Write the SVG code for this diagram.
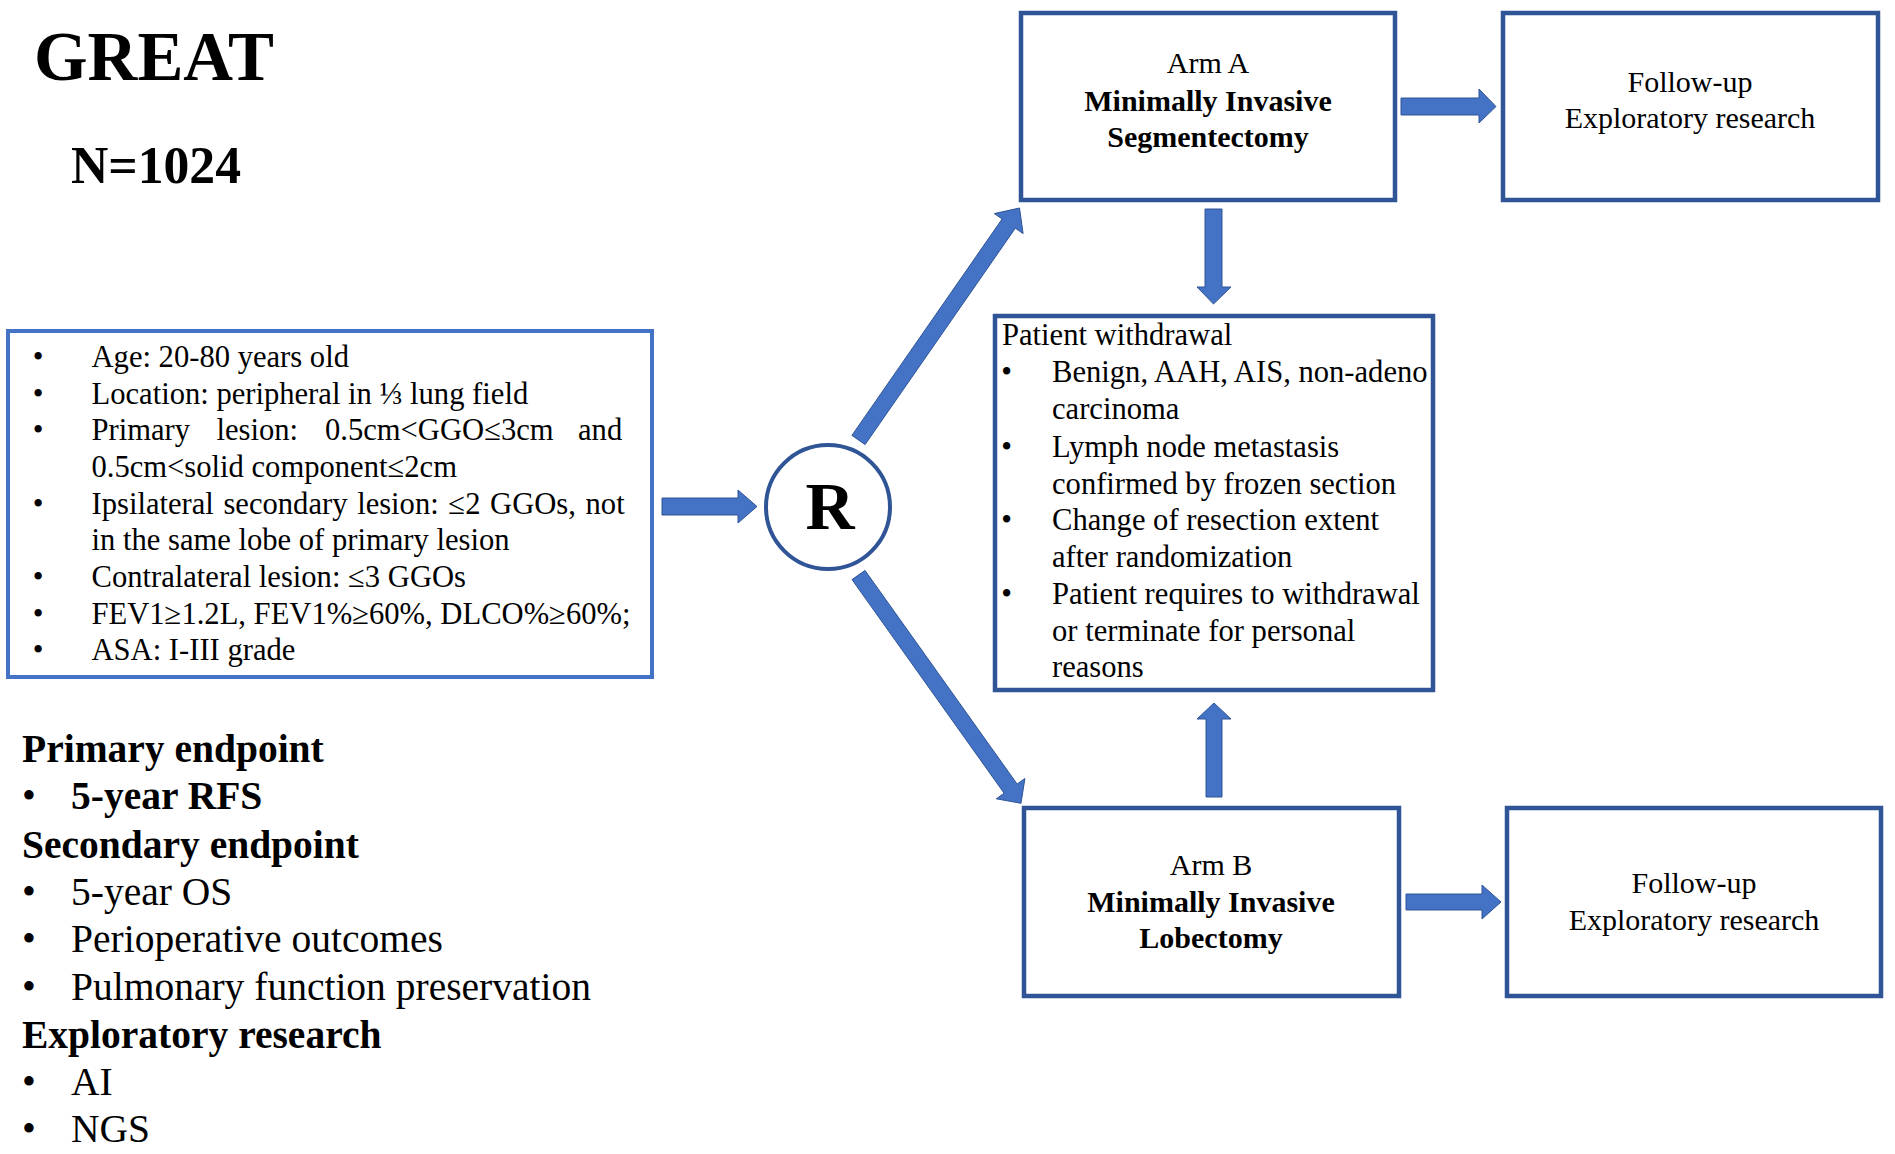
<svg xmlns="http://www.w3.org/2000/svg" width="1895" height="1154" viewBox="0 0 1895 1154">
<style>
text{font-family:"Liberation Serif","Times New Roman",serif;fill:#000}
.t30{font-size:30px}
.t31{font-size:30.6px}
.t39{font-size:39.5px}
.b{font-weight:bold}
.c{text-anchor:middle}
.box{fill:#fff;stroke:#2F5597;stroke-width:4.5}
.lbox{fill:#fff;stroke:#4472C4;stroke-width:4}
.arr{fill:#4472C4;stroke:#2F5597;stroke-width:1;stroke-linejoin:miter}
</style>
<rect width="1895" height="1154" fill="#fff"/>

<g id="title">
<text x="34" y="80" class="b" font-size="70" textLength="240" lengthAdjust="spacingAndGlyphs">GREAT</text>
<text x="71" y="183" class="b" font-size="52" textLength="170" lengthAdjust="spacingAndGlyphs">N=1024</text>
</g>

<g id="criteria">
<rect x="8" y="331" width="644" height="346" class="lbox"/>
<g class="t31">
<text x="38" y="367" class="c">•</text><text x="91.5" y="367">Age: 20-80 years old</text>
<text x="38" y="404" class="c">•</text><text x="91.5" y="404">Location: peripheral in ⅓ lung field</text>
<text x="38" y="440" class="c">•</text><text y="440"><tspan x="91.5">Primary</tspan><tspan x="216.5">lesion:</tspan><tspan x="325">0.5cm&lt;GGO≤3cm</tspan><tspan x="578">and</tspan></text>
<text x="91.5" y="477">0.5cm&lt;solid component≤2cm</text>
<text x="38" y="514" class="c">•</text><text x="91.5" y="514" word-spacing="2">Ipsilateral secondary lesion: ≤2 GGOs, not</text>
<text x="91.5" y="550">in the same lobe of primary lesion</text>
<text x="38" y="587" class="c">•</text><text x="91.5" y="587">Contralateral lesion: ≤3 GGOs</text>
<text x="38" y="624" class="c">•</text><text x="91.5" y="624">FEV1≥1.2L, FEV1%≥60%, DLCO%≥60%;</text>
<text x="38" y="660" class="c">•</text><text x="91.5" y="660">ASA: I-III grade</text>
</g>
</g>

<g id="endpoints" class="t39">
<text x="22" y="762" class="b">Primary endpoint</text>
<text x="29" y="809" class="c">•</text><text x="71" y="809" class="b">5-year RFS</text>
<text x="22" y="858" class="b">Secondary endpoint</text>
<text x="29" y="905" class="c">•</text><text x="71" y="905">5-year OS</text>
<text x="29" y="952" class="c">•</text><text x="71" y="952">Perioperative outcomes</text>
<text x="29" y="1000" class="c">•</text><text x="71" y="1000">Pulmonary function preservation</text>
<text x="22" y="1048" class="b">Exploratory research</text>
<text x="29" y="1095" class="c">•</text><text x="71" y="1095">AI</text>
<text x="29" y="1142" class="c">•</text><text x="71" y="1142">NGS</text>
</g>

<g id="randomization">
<circle cx="828" cy="507" r="62" fill="#fff" stroke="#2F5597" stroke-width="4"/>
<text x="830" y="529" class="b c" font-size="68">R</text>
</g>

<g id="armA">
<rect x="1021" y="13" width="374" height="187" class="box"/>
<g class="t30 c">
<text x="1208" y="73">Arm A</text>
<text x="1208" y="111" class="b">Minimally Invasive</text>
<text x="1208" y="147" class="b">Segmentectomy</text>
</g>
</g>

<g id="followA">
<rect x="1503" y="13" width="375" height="187" class="box"/>
<g class="t30 c">
<text x="1690" y="92">Follow-up</text>
<text x="1690" y="128">Exploratory research</text>
</g>
</g>

<g id="withdrawal">
<rect x="995" y="316" width="438" height="374" class="box"/>
<g class="t31">
<text x="1002" y="345">Patient withdrawal</text>
<text x="1006.5" y="382" class="c">•</text><text x="1052" y="382">Benign, AAH, AIS, non-adeno</text>
<text x="1052" y="419">carcinoma</text>
<text x="1006.5" y="457" class="c">•</text><text x="1052" y="457">Lymph node metastasis</text>
<text x="1052" y="494">confirmed by frozen section</text>
<text x="1006.5" y="530" class="c">•</text><text x="1052" y="530">Change of resection extent</text>
<text x="1052" y="567">after randomization</text>
<text x="1006.5" y="604" class="c">•</text><text x="1052" y="604">Patient requires to withdrawal</text>
<text x="1052" y="641">or terminate for personal</text>
<text x="1052" y="677">reasons</text>
</g>
</g>

<g id="armB">
<rect x="1024" y="808" width="375" height="188" class="box"/>
<g class="t30 c">
<text x="1211" y="875">Arm B</text>
<text x="1211" y="912" class="b">Minimally Invasive</text>
<text x="1211" y="948" class="b">Lobectomy</text>
</g>
</g>

<g id="followB">
<rect x="1507" y="808" width="374" height="188" class="box"/>
<g class="t30 c">
<text x="1694" y="893">Follow-up</text>
<text x="1694" y="930">Exploratory research</text>
</g>
</g>

<g id="connectors">
<polygon class="arr" points="662,498 738,498 738,490 757,506.5 738,523 738,515 662,515"/>
<polygon class="arr" points="865.1,444.6 851.9,435.4 1002.1,219 994.3,213.6 1019.5,208 1023.1,233.6 1015.3,228.2"/>
<polygon class="arr" points="852,579.6 865,570.4 1017.1,784 1024.9,778.5 1021,803.3 996.3,798.8 1004.1,793.2"/>
<polygon class="arr" points="1401,98 1479,98 1479,89 1496,106.5 1479,123 1479,115 1401,115"/>
<polygon class="arr" points="1406,894 1482,894 1482,885 1501,902 1482,919 1482,910 1406,910"/>
<polygon class="arr" points="1205,209 1222,209 1222,287 1231,287 1213.5,304 1197,287 1205,287"/>
<polygon class="arr" points="1206,797 1222,797 1222,719 1231,719 1214,703 1197,719 1206,719"/>
</g>
</svg>
